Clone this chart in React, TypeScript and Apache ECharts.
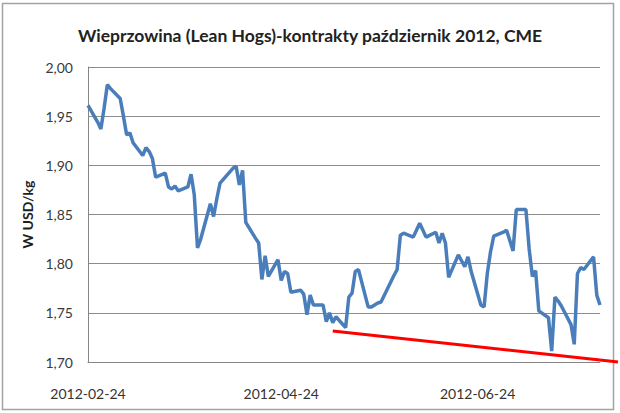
import React, { useEffect, useRef } from "react";
import * as echarts from "echarts";

const chartTitle = "Wieprzowina (Lean Hogs)-kontrakty październik 2012, CME";
const yAxisName = "W USD/kg";
const startDate = "2012-02-24";
const endDate = "2012-08-01";
const holidays = ["2012-04-06", "2012-05-28", "2012-07-04"];
const xLabelDates = ["2012-02-24", "2012-04-24", "2012-06-24"];
const yMin = 1.7;
const yMax = 2.0;
const yStep = 0.05;

// daily settlement prices (USD/kg), one per trading day from 2012-02-24 to 2012-08-01
const febPrices = [1.961, 1.944, 1.937, 1.958];
const marPrices = [1.982, 1.978, 1.968, 1.95, 1.931, 1.933, 1.923, 1.91, 1.918, 1.914, 1.907, 1.888, 1.892, 1.878, 1.876, 1.879, 1.874, 1.878, 1.891, 1.87, 1.816, 1.825];
const aprPrices = [1.861, 1.848, 1.866, 1.882, 1.897, 1.899, 1.88, 1.895, 1.842, 1.826, 1.821, 1.784, 1.808, 1.787, 1.804, 1.783, 1.792, 1.79, 1.771, 1.773];
const mayPrices = [1.769, 1.748, 1.768, 1.758, 1.758, 1.741, 1.75, 1.74, 1.746, 1.735, 1.766, 1.77, 1.792, 1.794, 1.756, 1.756, 1.758, 1.76, 1.761, 1.788, 1.794, 1.829];
const junPrices = [1.831, 1.827, 1.834, 1.841, 1.834, 1.827, 1.832, 1.821, 1.831, 1.821, 1.786, 1.809, 1.803, 1.797, 1.807, 1.792, 1.758, 1.756, 1.79, 1.812, 1.828];
const julPrices = [1.832, 1.834, 1.813, 1.855, 1.855, 1.815, 1.787, 1.793, 1.752, 1.745, 1.711, 1.766, 1.762, 1.757, 1.738, 1.718, 1.79, 1.796, 1.794, 1.807, 1.768];
const augPrices = [1.758];

// hand-drawn support line
const trendDates = ["2012-05-10", "2012-08-01"];
const trendValues = [1.7315, 1.702];

const DAY = 86400000;
const utc = (s: string) => {
  const [y, m, d] = s.split("-").map(Number);
  return Date.UTC(y, m - 1, d);
};
const fmtDate = (t: number) => new Date(t).toISOString().slice(0, 10);

function tradingDays(): string[] {
  const out: string[] = [];
  for (let t = utc(startDate); t <= utc(endDate); t += DAY) {
    const wd = new Date(t).getUTCDay();
    if (wd === 0 || wd === 6) continue;
    const s = fmtDate(t);
    if (holidays.includes(s)) continue;
    out.push(s);
  }
  return out;
}

export default function App() {
  const ref = useRef<HTMLDivElement>(null);
  useEffect(() => {
    if (!ref.current) return;
    const chart = echarts.init(ref.current, null, { renderer: "svg" });
    const dates = tradingDays();
    const prices = [...febPrices, ...marPrices, ...aprPrices, ...mayPrices, ...junPrices, ...julPrices, ...augPrices];
    const seriesData = dates.map((d, i) => [utc(d), prices[i]]);
    const trendData = trendDates.map((d, i) => [utc(d), trendValues[i]]);
    const border = {
      type: "rect",
      shape: { x: 2.5, y: 3.5, width: 611, height: 406 },
      style: { fill: "none", stroke: "#a3a3a3", lineWidth: 1.5 },
      silent: true,
    };
    chart.setOption({
      animation: false,
      backgroundColor: "#ffffff",
      textStyle: { fontFamily: "Lato" },
      title: {
        text: chartTitle,
        left: "center",
        top: 21,
        textStyle: { fontFamily: "Lato", fontSize: 17.5, fontWeight: "bold", color: "#222222" },
      },
      grid: { left: 88, right: 20, top: 67, bottom: 51 },
      xAxis: {
        type: "value",
        min: utc(startDate),
        max: utc(endDate),
        scale: true,
        axisLine: { show: true, lineStyle: { color: "#868686", width: 1 } },
        axisTick: { show: false },
        splitLine: { show: false },
        axisLabel: {
          customValues: xLabelDates.map(utc),
          formatter: (v: number) => fmtDate(v),
          color: "#333333",
          fontSize: 14,
          fontFamily: "Lato",
          margin: 24,
          hideOverlap: false,
        },
      },
      yAxis: {
        type: "value",
        min: yMin,
        max: yMax,
        interval: yStep,
        name: yAxisName,
        nameLocation: "middle",
        nameRotate: 90,
        nameGap: 49,
        nameTextStyle: { fontFamily: "Lato", fontSize: 14, fontWeight: "bold", color: "#1e1e1e" },
        axisLine: { show: true, lineStyle: { color: "#868686", width: 1 } },
        axisTick: { show: false },
        splitLine: { show: true, lineStyle: { color: "#8c8c8c", width: 1 } },
        axisLabel: {
          formatter: (v: number) => v.toFixed(2).replace(".", ","),
          color: "#3a3a3a",
          fontSize: 14,
          fontFamily: "Lato",
          margin: 15,
        },
      },
      series: [
        {
          type: "line",
          data: seriesData,
          symbol: "none",
          lineStyle: { color: "#4a7ebb", width: 3.5 },
          z: 3,
        },
        {
          type: "line",
          data: trendData,
          symbol: "none",
          lineStyle: { color: "#ff0000", width: 3 },
          z: 2,
        },
      ],
      graphic: [border],
    });
    const p0 = chart.convertToPixel({ seriesIndex: 1 }, trendData[0]) as number[];
    const p1 = chart.convertToPixel({ seriesIndex: 1 }, trendData[1]) as number[];
    if (p0 && p1) {
      const slope = (p1[1] - p0[1]) / (p1[0] - p0[0]);
      const x2 = 618;
      const y2 = p1[1] + slope * (x2 - p1[0]);
      chart.setOption({
        graphic: [
          border,
          {
            type: "line",
            shape: { x1: p1[0], y1: p1[1], x2, y2 },
            style: { stroke: "#ff0000", lineWidth: 3 },
            silent: true,
          },
        ],
      });
    }
    return () => chart.dispose();
  }, []);
  return (
    <div
      ref={ref}
      style={{ position: "absolute", left: 0, top: 0, width: 620, height: 413 }}
    />
  );
}
